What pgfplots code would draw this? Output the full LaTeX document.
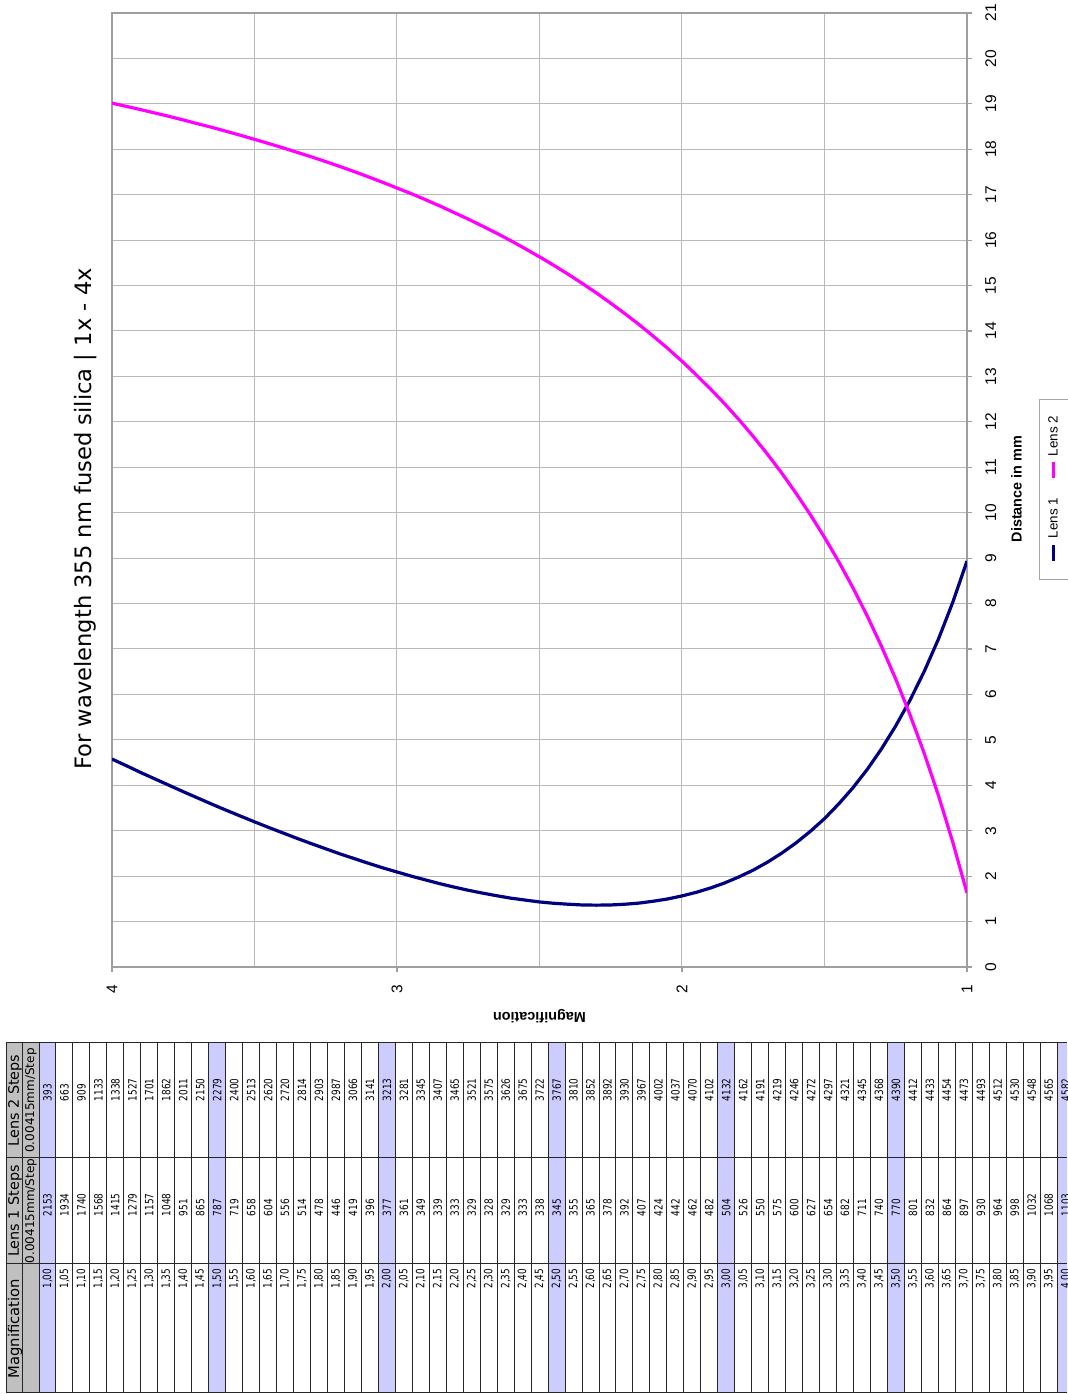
\documentclass[border=0pt]{standalone}
\usepackage{pgfplots}
\usepackage{pgfplotstable}
\pgfplotsset{compat=1.18}
\usepackage{fontspec}
\setmainfont{Liberation Sans}
\newfontfamily\dejavu{DejaVu Sans}
\newfontfamily\tabnum[FakeStretch=0.78]{DejaVu Sans}
\definecolor{lensA}{HTML}{000080}
\definecolor{lensB}{HTML}{FF00FF}
\definecolor{hl}{HTML}{CCCCFF}
\definecolor{hdr}{HTML}{C0C0C0}

\pgfplotstableread{
M L1 L2
1.00 2153 393
1.05 1934 663
1.10 1740 909
1.15 1568 1133
1.20 1415 1338
1.25 1279 1527
1.30 1157 1701
1.35 1048 1862
1.40 951 2011
1.45 865 2150
1.50 787 2279
1.55 719 2400
1.60 658 2513
1.65 604 2620
1.70 556 2720
1.75 514 2814
1.80 478 2903
1.85 446 2987
1.90 419 3066
1.95 396 3141
2.00 377 3213
2.05 361 3281
2.10 349 3345
2.15 339 3407
2.20 333 3465
2.25 329 3521
2.30 328 3575
2.35 329 3626
2.40 333 3675
2.45 338 3722
2.50 345 3767
2.55 355 3810
2.60 365 3852
2.65 378 3892
2.70 392 3930
2.75 407 3967
2.80 424 4002
2.85 442 4037
2.90 462 4070
2.95 482 4102
3.00 504 4132
3.05 526 4162
3.10 550 4191
3.15 575 4219
3.20 600 4246
3.25 627 4272
3.30 654 4297
3.35 682 4321
3.40 711 4345
3.45 740 4368
3.50 770 4390
3.55 801 4412
3.60 832 4433
3.65 864 4454
3.70 897 4473
3.75 930 4493
3.80 964 4512
3.85 998 4530
3.90 1032 4548
3.95 1068 4565
4.00 1103 4582
}\lensdata

\begin{document}
\begin{tikzpicture}
\path (0pt,0pt) rectangle (533.5pt,697pt);
\begin{pgfinterruptboundingbox}
% ---- table (rotated spreadsheet) ----
\begin{scope}[x=0.5pt,y=0.5pt]
\clip (0,0) rectangle (1067,1394);
\fill[hdr] (6,1) rectangle (39,351);
\foreach \i in {0,10,...,60} {
  \fill[hl] ({39+16.97*\i},1) rectangle ({39+16.97*(\i+1)},351);
}
\foreach \i in {0,...,61} {
  \draw[black!85, line width=0.5pt] ({39+16.97*\i},1) -- ({39+16.97*\i},351);
}
\draw[black!85, line width=0.5pt] (6,1) -- (6,351);
\draw[black!85, line width=0.5pt] (22.7,1) -- (22.7,351);
\foreach \yy in {1,130,236,351} {
  \draw[black!85, line width=0.5pt] (6,\yy) -- (1067,\yy);
}
\node[rotate=90, inner sep=0pt, font=\dejavu\fontsize{7.4}{8}\selectfont] at (15,65.5) {Magnification};
\node[rotate=90, inner sep=0pt, font=\dejavu\fontsize{7.2}{8}\selectfont] at (15,183) {Lens 1 Steps};
\node[rotate=90, inner sep=0pt, font=\dejavu\fontsize{7.2}{8}\selectfont] at (15,293.5) {Lens 2 Steps};
\node[rotate=90, inner sep=0pt, font=\dejavu\fontsize{6}{7}\selectfont] at (31,183) {0.00415mm/Step};
\node[rotate=90, inner sep=0pt, font=\dejavu\fontsize{6}{7}\selectfont] at (31,293.5) {0.00415mm/Step};
\foreach \i in {0,...,60} {
  \pgfplotstablegetelem{\i}{M}\of\lensdata
  \let\vm\pgfplotsretval
  \pgfplotstablegetelem{\i}{L1}\of\lensdata
  \let\va\pgfplotsretval
  \pgfplotstablegetelem{\i}{L2}\of\lensdata
  \let\vb\pgfplotsretval
  \node[rotate=90, anchor=east, inner sep=0pt, font=\tabnum\fontsize{5.7}{6}\selectfont]
    at ({47.5+16.97*\i},125.7) {\pgfmathprintnumber[fixed,fixed zerofill,precision=2,use comma,assume math mode=true]{\vm}};
  \node[rotate=90, anchor=west, inner sep=0pt, font=\tabnum\fontsize{5.7}{6}\selectfont]
    at ({47.5+16.97*\i},177.3) {\va};
  \node[rotate=90, anchor=west, inner sep=0pt, font=\tabnum\fontsize{5.7}{6}\selectfont]
    at ({47.5+16.97*\i},292.3) {\vb};
}
\end{scope}

% ---- chart ----
\begin{axis}[
  at={(56pt,213.5pt)}, anchor=south west,
  scale only axis, width=427.5pt, height=477pt,
  xmin=1, xmax=4, ymin=0, ymax=21, x dir=reverse,
  xtick={1,2,3,4}, minor xtick={1.5,2.5,3.5},
  ytick={0,1,...,21},
  xmajorgrids, xminorgrids, ymajorgrids,
  grid style={gray!55, line width=0.5pt},
  minor grid style={gray!55, line width=0.5pt},
  axis line style={gray!75, line width=0.6pt},
  tick style={gray!75, line width=0.6pt},
  tick align=outside, major tick length=2.5pt, minor tick length=0pt,
  xtick pos=left, ytick pos=right,
  xticklabel pos=left, yticklabel pos=right,
  /pgf/number format/assume math mode=true,
  xticklabel style={rotate=90, anchor=center, xshift=-8.5pt, font=\fontsize{7.75}{9}\selectfont},
  yticklabel style={rotate=90, anchor=center, yshift=-9.35pt, font=\fontsize{7.75}{9}\selectfont},
  xlabel={Magnification},
  ylabel={Distance in mm},
  every axis x label/.style={at={(axis description cs:0.5,-0.0514)}, anchor=center, rotate=180, font=\bfseries\fontsize{7.2}{8}\selectfont},
  every axis y label/.style={at={(axis description cs:1.058,0.501)}, anchor=center, rotate=90, font=\bfseries\fontsize{7.2}{8}\selectfont},
]
\addplot[lensA, line width=1.6pt] table[x=M, y expr=\thisrow{L1}*0.00415] {\lensdata};
\addplot[lensB, line width=1.6pt] table[x=M, y expr=\thisrow{L2}*0.00415] {\lensdata};
\end{axis}

% ---- legend (rotated, as in the reference) ----
\draw[gray!70, line width=0.5pt] (519.5pt,407pt) rectangle (545pt,497pt);
\draw[lensA, line width=1.5pt] (526.5pt,416.5pt) -- (526.5pt,424.5pt);
\node[rotate=90, inner sep=0pt, font=\fontsize{6.7}{8}\selectfont] at (526.5pt,438pt) {Lens 1};
\draw[lensB, line width=1.5pt] (526.5pt,458pt) -- (526.5pt,466pt);
\node[rotate=90, inner sep=0pt, font=\fontsize{6.7}{8}\selectfont] at (526.5pt,479pt) {Lens 2};

\node[rotate=90, font=\dejavu\fontsize{11.3}{13}\selectfont] at (43pt,437.5pt) {For wavelength 355 nm fused silica | 1x - 4x};
\end{pgfinterruptboundingbox}
\end{tikzpicture}
\end{document}
